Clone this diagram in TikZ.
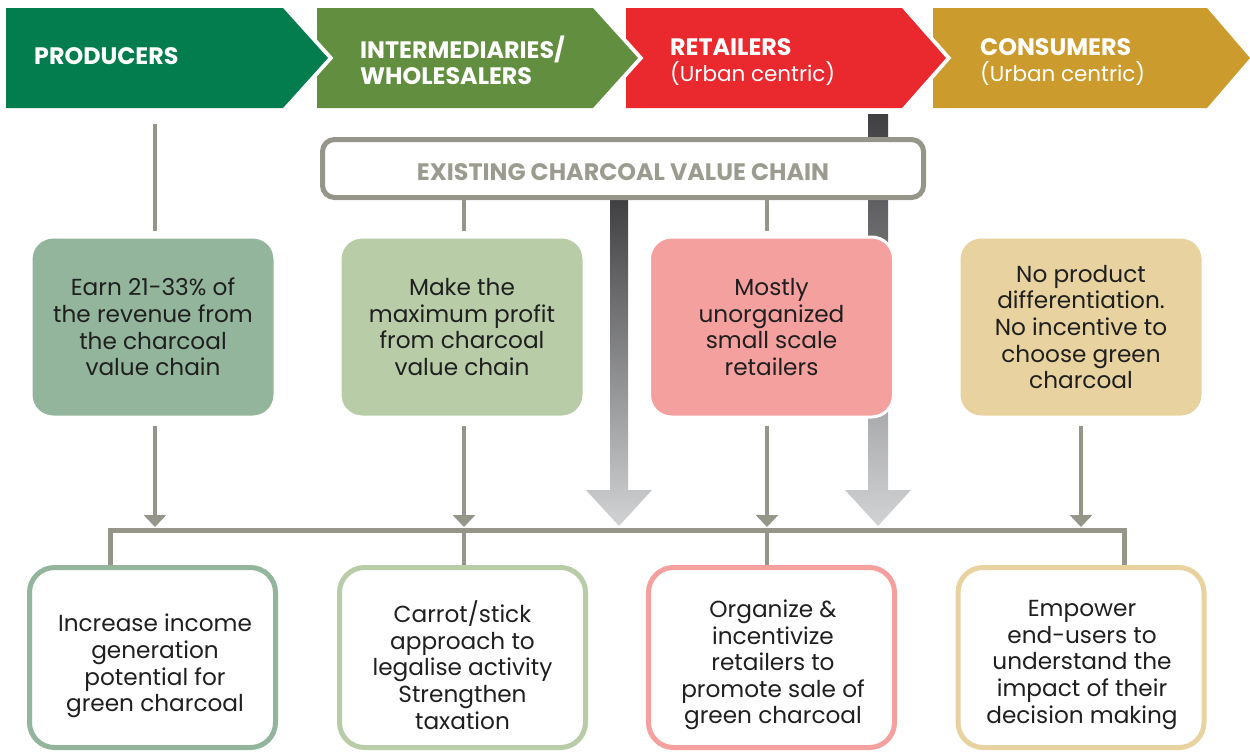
\documentclass[tikz,border=0pt]{standalone}
\usepackage{fontspec}
\setmainfont{Poppins}
\usetikzlibrary{arrows.meta}
\definecolor{cProd}{HTML}{047D4E}
\definecolor{cInt}{HTML}{618E3F}
\definecolor{cRet}{HTML}{E9292D}
\definecolor{cCon}{HTML}{CC9B2E}
\definecolor{lProd}{HTML}{93B59C}
\definecolor{lInt}{HTML}{B8CCA8}
\definecolor{lRet}{HTML}{F4A09E}
\definecolor{lCon}{HTML}{E8D29F}
\definecolor{lineGray}{HTML}{95958A}
\definecolor{txtGray}{HTML}{9B9B8F}
\definecolor{txtDark}{HTML}{1F1F1F}
\definecolor{arrDark}{HTML}{404042}
\definecolor{arrLight}{HTML}{D2D3D5}
\newcommand{\hb}{\bfseries\fontsize{23.8}{26}\selectfont}
\newcommand{\hr}{\mdseries\fontsize{21.5}{26}\selectfont}
\tikzset{
  halo/.style={draw=white, line width=8pt, line join=miter},
  headtxt/.style={anchor=west, align=left, text=white, font=\fontsize{21.5}{26}\selectfont, inner sep=0pt},
  midbox/.style={rounded corners=22pt, draw=white, line width=3pt, minimum width=244pt, minimum height=180pt, align=center, text=txtDark, font=\fontsize{23.2}{26.6}\selectfont},
  lowbox/.style={rounded corners=25pt, draw=#1, fill=white, line width=5pt, minimum width=246pt, minimum height=180pt},
  lowtxt/.style={align=center, text=txtDark, font=\fontsize{23.2}{26.6}\selectfont, inner sep=0pt},
  conn/.style={draw=lineGray, line width=4pt},
  connarr/.style={conn, -{Triangle[width=22pt,length=12pt]}},
}
\begin{document}
\begin{tikzpicture}[x=1pt,y=-1pt]
\useasboundingbox (0,0) rectangle (1250,753);
% chevrons (back to front)
\path[halo] (933,8) -- (1207,8) -- (1250,58) -- (1207,108) -- (933,108) -- cycle;
\fill[cCon] (933,8) -- (1207,8) -- (1250,58) -- (1207,108) -- (933,108) -- cycle;
\path[halo] (626,8) -- (902,8) -- (946,58) -- (902,108) -- (626,108) -- cycle;
\fill[cRet] (626,8) -- (902,8) -- (946,58) -- (902,108) -- (626,108) -- cycle;
\path[halo] (317,8) -- (593,8) -- (638,58) -- (593,108) -- (317,108) -- cycle;
\fill[cInt] (317,8) -- (593,8) -- (638,58) -- (593,108) -- (317,108) -- cycle;
\path[halo] (6,8) -- (283,8) -- (328,58) -- (283,108) -- (6,108) -- cycle;
\fill[cProd] (6,8) -- (283,8) -- (328,58) -- (283,108) -- (6,108) -- cycle;
% header texts
\node[headtxt] (hP) at (34,56) {\hb PRODUCERS};
\node[headtxt] (hI) at (360,60) {\hb INTERMEDIARIES/\\\hb WHOLESALERS};
\node[headtxt] (hR) at (670,62.5) {\hb RETAILERS\\\hr (Urban centric)};
\node[headtxt] (hC) at (980,62.5) {\hb CONSUMERS\\\hr (Urban centric)};
% big gradient arrows
\shade[top color=arrDark, bottom color=arrLight]
  (610,200) -- (628,200) -- (628,490) -- (652,490) -- (619,526) -- (586,490) -- (610,490) -- cycle;
\shade[top color=arrDark, bottom color=arrLight]
  (868,114) -- (888,114) -- (888,490) -- (911,490) -- (878,526) -- (845,490) -- (868,490) -- cycle;
% existing value chain box
\node[draw=lineGray, fill=white, line width=5pt, rounded corners=12pt, minimum width=601pt, minimum height=58pt,
  text=txtGray, font=\bfseries\fontsize{23.8}{26}\selectfont] (ex) at (623,168.5) {\raisebox{-11.8pt}[0pt][0pt]{EXISTING CHARCOAL VALUE CHAIN}};
% middle boxes
\node[midbox, fill=lProd] (m1) at (153,327) {Earn 21-33\% of\\the revenue from\\the charcoal\\value chain};
\node[midbox, fill=lInt] (m2) at (462,327) {Make the\\maximum profit\\from charcoal\\value chain};
\node[midbox, fill=lRet] (m3) at (771.5,327) {Mostly\\unorganized\\small scale\\retailers};
\node[midbox, fill=lCon] (m4) at (1081,327) {No product\\differentiation.\\No incentive to\\choose green\\charcoal};
% top connectors
\coordinate (pTop) at (155,124);
\draw[conn] (pTop) -- (155,231);
\draw[conn] (ex.south -| 464,0) -- (464,231);
\draw[conn] (ex.south -| 767,0) -- (767,231);
% bottom boxes
\node[lowbox=lProd] (b1) at (152.5,657.5) {};
\node[lowbox=lInt] (b2) at (462.5,657.5) {};
\node[lowbox=lRet] (b3) at (771.5,657.5) {};
\node[lowbox=lCon] (b4) at (1081,657.5) {};
\node[lowtxt] (t1) at (155,666) {Increase income\\generation\\potential for\\green charcoal};
\node[lowtxt] (t2) at (462.5,665) {Carrot/stick\\approach to\\legalise activity\\Strengthen\\taxation};
\node[lowtxt] (t3) at (773,665) {Organize \&\\incentivize\\retailers to\\promote sale of\\green charcoal};
\node[lowtxt] (t4) at (1082,665) {Empower\\end-users to\\understand the\\impact of their\\decision making};
% bus
\coordinate (busL) at (110,530);
\coordinate (busR) at (1124,530);
\draw[conn, line width=5pt] (b1.north -| busL) -- (busL) -- (busR) -- (b4.north -| busR);
\draw[conn] (464,530) -- (b2.north -| 464,0);
\draw[conn] (767,530) -- (b3.north -| 767,0);
% arrows from middle boxes to bus
\draw[connarr] ([yshift=-7pt]m1.south -| 155,0) -- (155,527);
\draw[connarr] ([yshift=-7pt]m2.south -| 464,0) -- (464,527);
\draw[connarr] ([yshift=-7pt]m3.south -| 767,0) -- (767,527);
\draw[connarr] ([yshift=-7pt]m4.south -| 1081,0) -- (1081,527);
\end{tikzpicture}
\end{document}
